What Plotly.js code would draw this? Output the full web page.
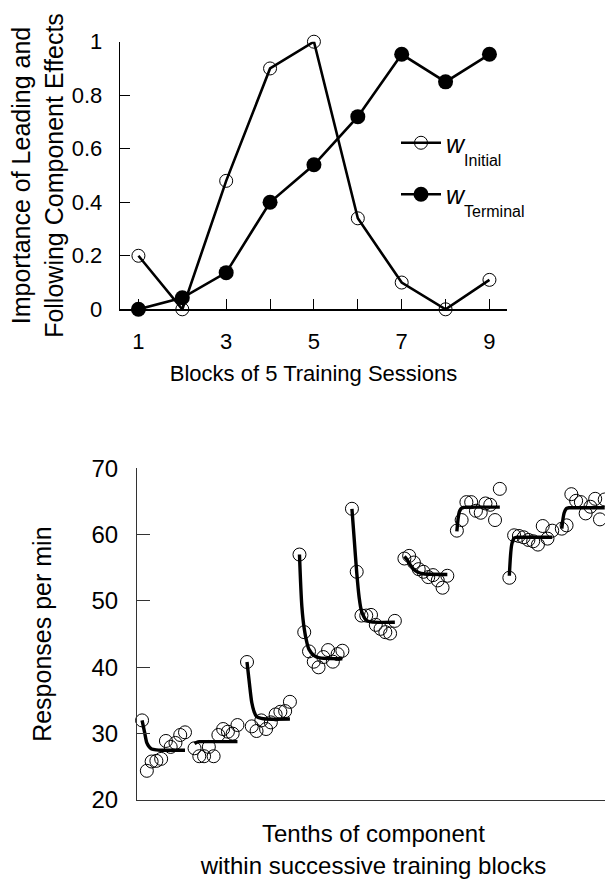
<!DOCTYPE html>
<html>
<head>
<meta charset="utf-8">
<script src="https://cdn.plot.ly/plotly-3.0.1.min.js"></script>
<style>
html,body{margin:0;padding:0;background:#fff;overflow:hidden;}
#chart{width:612px;height:884px;}
</style>
</head>
<body>
<div id="chart"></div>
<script>
// ---------- Top panel data ----------
const trainingBlocks = [1, 2, 3, 4, 5, 6, 7, 8, 9];
const wInitial  = [0.20, 0.00, 0.48, 0.90, 1.00, 0.34, 0.10, 0.00, 0.11];
const wTerminal = [0.00, 0.043, 0.137, 0.40, 0.54, 0.72, 0.953, 0.85, 0.953];
const topTickVals = [1, 2, 3, 4, 5, 6, 7, 8, 9];
const topTickText = ["1", "", "3", "", "5", "", "7", "", "9"];

// ---------- Bottom panel data ----------
const tenths = [1, 2, 3, 4, 5, 6, 7, 8, 9, 10];
const block1 = [32.0, 24.4, 25.8, 25.9, 26.2, 28.9, 28.0, 28.6, 29.8, 30.2];
const block2 = [27.8, 26.6, 26.6, 28.0, 26.6, 29.8, 30.7, 30.3, 30.0, 31.3];
const block3 = [40.8, 31.1, 30.4, 32.0, 30.7, 31.7, 32.9, 33.3, 33.4, 34.8];
const block4 = [57.0, 45.3, 42.4, 40.85, 40.0, 41.55, 42.6, 40.85, 42.0, 42.5];
const block5 = [63.9, 54.4, 47.8, 47.8, 47.9, 46.4, 45.8, 45.3, 45.1, 47.0];
const block6 = [56.4, 56.8, 55.8, 54.8, 54.4, 53.6, 53.9, 53.1, 52.0, 53.8];
const block7 = [60.6, 62.2, 64.9, 64.9, 63.6, 63.3, 64.7, 64.5, 62.2, 66.9];
const block8 = [53.5, 59.9, 59.8, 59.6, 59.2, 59.0, 58.5, 61.3, 59.4, 60.6];
const block9 = [60.9, 61.4, 66.1, 65.1, 64.9, 63.2, 64.2, 65.4, 62.3, 65.3];

// fitted curves, read at these tenths
const curveT = [1, 1.5, 2, 2.5, 3, 4, 5, 10];
const fit1 = [32.0, 30.3, 28.6, 28.0, 27.7, 27.55, 27.5, 27.5];
const fit2 = [28.5, 28.7, 28.8, 28.8, 28.8, 28.8, 28.8, 28.8];
const fit3 = [40.8, 37.6, 34.7, 33.3, 32.6, 32.3, 32.2, 32.2];
const fit4 = [57.0, 49.2, 45.8, 43.9, 42.7, 41.8, 41.45, 41.3];
const fit5 = [63.9, 59.1, 54.3, 50.6, 48.5, 47.1, 46.85, 46.8];
const fit6 = [56.7, 56.3, 55.7, 55.2, 54.7, 54.3, 54.1, 54.0];
const fit7 = [60.5, 63.4, 64.0, 64.1, 64.15, 64.15, 64.15, 64.15];
const fit8 = [53.8, 58.5, 59.5, 59.6, 59.6, 59.6, 59.6, 59.6];
const fit9 = [60.9, 63.3, 63.95, 64.05, 64.05, 64.05, 64.05, 64.05];

const blocks = [block1, block2, block3, block4, block5, block6, block7, block8, block9];
const fits = [fit1, fit2, fit3, fit4, fit5, fit6, fit7, fit8, fit9];
const BLOCK_SPAN = 11; // 10 tenths + 1 gap

// ---------- build traces ----------
const FONT = "Liberation Sans, Arial, Helvetica, sans-serif";
const W = 612, H = 884;
const px = v => v / W;
const py = v => 1 - v / H;

const dotX = [], dotY = [], fitX = [], fitY = [];
blocks.forEach((b, i) => {
  b.forEach((v, j) => { dotX.push(i * BLOCK_SPAN + tenths[j]); dotY.push(v); });
  fits[i].forEach((v, j) => { fitX.push(i * BLOCK_SPAN + curveT[j]); fitY.push(v); });
  fitX.push(null); fitY.push(null);
});

const traces = [
  {
    x: trainingBlocks, y: wInitial, type: 'scatter', mode: 'lines+markers',
    name: "<i>w</i><span style='font-size:16px;baseline-shift:-13px'>Initial</span>",
    line: {color: '#000', width: 2.6},
    marker: {symbol: 'circle-open', size: 13, color: '#000', line: {width: 1, color: '#000'}},
    cliponaxis: false, xaxis: 'x', yaxis: 'y', legendgroup: 'a'
  },
  {
    x: trainingBlocks, y: wTerminal, type: 'scatter', mode: 'lines+markers',
    name: "<i>w</i><span style='font-size:16px;baseline-shift:-13px'>Terminal</span>",
    line: {color: '#000', width: 2.6},
    marker: {symbol: 'circle', size: 15, color: '#000'},
    cliponaxis: false, xaxis: 'x', yaxis: 'y', legendgroup: 'b'
  },
  {
    x: fitX, y: fitY, type: 'scatter', mode: 'lines',
    line: {color: '#000', width: 3.4, shape: 'spline', smoothing: 0.8},
    connectgaps: false, showlegend: false, xaxis: 'x2', yaxis: 'y2', cliponaxis: false
  },
  {
    x: dotX, y: dotY, type: 'scatter', mode: 'markers',
    marker: {symbol: 'circle-open', size: 13, color: '#000', line: {width: 1, color: '#000'}},
    showlegend: false, xaxis: 'x2', yaxis: 'y2', cliponaxis: false
  }
];

const layout = {
  width: W, height: H,
  margin: {l: 0, r: 0, t: 0, b: 0},
  paper_bgcolor: '#fff', plot_bgcolor: '#fff',
  font: {family: FONT, color: '#000', size: 22},
  showlegend: true,
  legend: {
    x: px(396), y: py(120), xanchor: 'left', yanchor: 'top',
    bgcolor: 'rgba(0,0,0,0)', font: {family: FONT, size: 25, color: '#000'},
    tracegroupgap: 16, itemwidth: 40
  },
  xaxis: {
    domain: [px(120), px(507)], range: [0.58, 9.4], anchor: 'y',
    showgrid: false, zeroline: false, showline: true, linecolor: '#000', linewidth: 1.3,
    tickmode: 'array', tickvals: topTickVals, ticktext: topTickText,
    ticks: 'inside', ticklen: 10, tickwidth: 1, tickcolor: '#000',
    tickfont: {family: FONT, size: 22}, ticklabelstandoff: 12,
    title: {text: 'Blocks of 5 Training Sessions', font: {family: FONT, size: 22}, standoff: 12}
  },
  yaxis: {
    domain: [py(309.3), py(41.7)], range: [0, 1], anchor: 'x',
    showgrid: false, zeroline: false, showline: true, linecolor: '#000', linewidth: 1.3,
    tickvals: [0, 0.2, 0.4, 0.6, 0.8, 1], ticktext: ['0', '0.2', '0.4', '0.6', '0.8', '1'],
    ticks: 'inside', ticklen: 10, tickwidth: 1, tickcolor: '#000',
    tickfont: {family: FONT, size: 22}, ticklabelstandoff: 12,
    title: {text: 'Importance of Leading and<br>Following Component Effects', font: {family: FONT, size: 25}, standoff: 1}
  },
  xaxis2: {
    domain: [px(137.3), px(609.5)], range: [0, 99], anchor: 'y2',
    showgrid: false, zeroline: false, showline: true, linecolor: '#333', linewidth: 1.3,
    ticks: '', showticklabels: false,
    title: {text: 'Tenths of component<br>within successive training blocks', font: {family: FONT, size: 24}, standoff: 25}
  },
  yaxis2: {
    domain: [py(800), py(468.3)], range: [20, 70], anchor: 'x2',
    showgrid: false, zeroline: false, showline: true, linecolor: '#333', linewidth: 1.3,
    tickvals: [20, 30, 40, 50, 60, 70],
    ticks: 'inside', ticklen: 13, tickwidth: 1, tickcolor: '#333',
    tickfont: {family: FONT, size: 24}, ticklabelstandoff: 13,
    title: {text: 'Responses per min', font: {family: FONT, size: 25}, standoff: 32}
  }
};

Plotly.newPlot('chart', traces, layout, {displayModeBar: false, staticPlot: true});
</script>
</body>
</html>
